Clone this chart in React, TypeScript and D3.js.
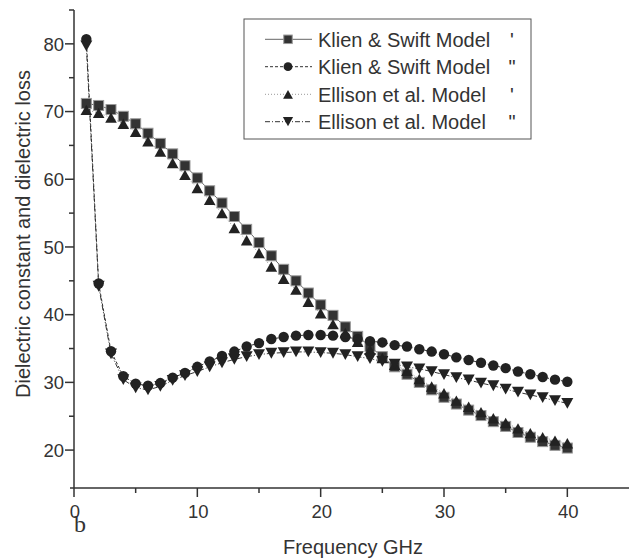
import React from "react";
import * as d3 from "d3";

const freq = d3.range(1, 41);
const klienReal = [71.2, 70.9, 70.3, 69.3, 68.2, 66.8, 65.3, 63.75, 62.0, 60.2, 58.3, 56.5, 54.5, 52.6, 50.65, 48.7, 46.7, 45.0, 43.2, 41.45, 39.9, 38.2, 36.8, 35.3, 33.8, 32.3, 31.2, 30.0, 28.9, 27.8, 26.8, 25.9, 25.1, 24.2, 23.5, 22.6, 21.9, 21.25, 20.7, 20.3];
const klienLoss = [80.7, 44.6, 34.6, 30.9, 29.8, 29.5, 29.9, 30.7, 31.4, 32.3, 33.1, 33.9, 34.55, 35.3, 35.8, 36.4, 36.7, 36.9, 37.0, 37.0, 36.9, 36.7, 36.4, 36.1, 35.9, 35.5, 35.3, 34.9, 34.55, 34.15, 33.7, 33.3, 32.9, 32.5, 32.1, 31.6, 31.2, 30.8, 30.4, 30.1];
const ellisonReal = [70.25, 69.8, 69.1, 68.2, 67.0, 65.6, 64.1, 62.4, 60.65, 58.7, 56.95, 55.0, 52.8, 51.0, 49.1, 47.1, 45.3, 43.7, 41.9, 40.2, 38.6, 37.3, 36.0, 34.8, 33.6, 32.6, 31.7, 30.5, 29.4, 28.4, 27.3, 26.4, 25.6, 24.7, 24.0, 23.2, 22.5, 21.9, 21.4, 21.0];
const ellisonLoss = [79.7, 44.2, 34.2, 30.4, 29.2, 28.9, 29.4, 30.3, 31.0, 31.6, 32.3, 32.9, 33.4, 33.8, 34.1, 34.3, 34.4, 34.5, 34.5, 34.4, 34.3, 34.1, 33.8, 33.5, 33.1, 32.7, 32.3, 32.0, 31.6, 31.15, 30.7, 30.35, 29.9, 29.5, 29.0, 28.55, 28.15, 27.75, 27.3, 26.9];

const xTicks = [0, 10, 20, 30, 40];
const xMinor = [5, 15, 25, 35];
const yTicks = [20, 30, 40, 50, 60, 70, 80];
const yMinor = [25, 35, 45, 55, 65, 75, 85];

const seriesNames = ["Klien & Swift Model", "Klien & Swift Model", "Ellison et al. Model", "Ellison et al. Model"];
const seriesMarks = ["'", "\"", "'", "\""];

const W = 629, H = 559;
const x = d3.scaleLinear().domain([0, 45]).range([74, 629]);
const y = d3.scaleLinear().domain([14.4, 85]).range([488, 10]);

type Kind = "square" | "circle" | "up" | "down";

function Marker({ kind, cx, cy, s = 1 }: { kind: Kind; cx: number; cy: number; s?: number }) {
  if (kind === "square") {
    const h = 5 * s;
    return <rect x={cx - h} y={cy - h} width={2 * h} height={2 * h} fill="#333" stroke="#999" strokeWidth={1} />;
  }
  if (kind === "circle") {
    return <circle cx={cx} cy={cy} r={5.2 * s} fill="#222" />;
  }
  if (kind === "up") {
    const w = 5.8 * s, h = 5.2 * s;
    return <path d={`M${cx},${cy - h}L${cx + w},${cy + h}L${cx - w},${cy + h}Z`} fill="#222" />;
  }
  const w = 6 * s, h = 5.4 * s;
  return <path d={`M${cx - w},${cy - h}L${cx + w},${cy - h}L${cx},${cy + h}Z`} fill="#222" />;
}

const series: { data: number[]; kind: Kind; stroke: string; dash: string }[] = [
  { data: klienReal, kind: "square", stroke: "#666", dash: "none" },
  { data: klienLoss, kind: "circle", stroke: "#333", dash: "3,2" },
  { data: ellisonReal, kind: "up", stroke: "#999", dash: "1,2" },
  { data: ellisonLoss, kind: "down", stroke: "#333", dash: "5,2,1,2" },
];

export default function App() {
  const line = d3
    .line<number>()
    .x((_, i) => x(freq[i]))
    .y((d) => y(d));
  const font = "'Liberation Sans', Arial, sans-serif";
  const legendRows = [39.3, 66.7, 94.3, 121.7];
  return (
    <svg width={W} height={H} style={{ position: "absolute", left: 0, top: 0 }} fontFamily={font}>
      <rect x={0} y={0} width={W} height={H} fill="#fff" />
      {/* series lines */}
      {series.map((s, k) => (
        <path key={"l" + k} d={line(s.data) || ""} fill="none" stroke={s.stroke} strokeWidth={1} strokeDasharray={s.dash} />
      ))}
      {/* markers */}
      {series.map((s, k) => (
        <g key={"m" + k}>
          {s.data.map((v, i) => (
            <Marker key={i} kind={s.kind} cx={x(freq[i])} cy={y(v)} />
          ))}
        </g>
      ))}
      {/* axes */}
      <line x1={x(0)} x2={x(0)} y1={y(85)} y2={y(14.4)} stroke="#333" strokeWidth={1.5} />
      <line x1={70} x2={629} y1={y(14.4)} y2={y(14.4)} stroke="#333" strokeWidth={1.5} />
      {yTicks.map((t) => (
        <g key={"yt" + t}>
          <line x1={x(0) - 9} x2={x(0)} y1={y(t)} y2={y(t)} stroke="#333" strokeWidth={1.5} />
          <text x={64} y={y(t)} dy="0.36em" textAnchor="end" fontSize={18.5} fill="#333">
            {t}
          </text>
        </g>
      ))}
      {yMinor.map((t) => (
        <line key={"ym" + t} x1={x(0) - 5} x2={x(0)} y1={y(t)} y2={y(t)} stroke="#333" strokeWidth={1.5} />
      ))}
      {xTicks.map((t) => (
        <g key={"xt" + t}>
          <line x1={x(t)} x2={x(t)} y1={y(14.4)} y2={y(14.4) + 9} stroke="#333" strokeWidth={1.5} />
          <text x={x(t) + 1} y={518} textAnchor="middle" fontSize={18.5} fill="#333">
            {t}
          </text>
        </g>
      ))}
      {xMinor.map((t) => (
        <line key={"xm" + t} x1={x(t)} x2={x(t)} y1={y(14.4)} y2={y(14.4) + 5} stroke="#333" strokeWidth={1.5} />
      ))}
      <text x={80} y={532} textAnchor="middle" fontSize={24} fontFamily="'Liberation Serif', serif" fill="#333">
        b
      </text>
      <text x={353} y={554} textAnchor="middle" fontSize={20} fill="#333">
        Frequency GHz
      </text>
      <text transform={`translate(30,234) rotate(-90)`} textAnchor="middle" fontSize={20} fill="#333">
        Dielectric constant and dielectric loss
      </text>
      {/* legend */}
      <rect x={244} y={19} width={287} height={120} fill="#fff" stroke="#555" strokeWidth={1} />
      {series.map((s, k) => (
        <g key={"lg" + k}>
          <line x1={265} x2={312} y1={legendRows[k]} y2={legendRows[k]} stroke={s.stroke} strokeWidth={1} strokeDasharray={s.dash} />
          <Marker kind={s.kind} cx={288} cy={legendRows[k]} s={0.85} />
          <text x={318} y={legendRows[k]} dy="0.36em" fontSize={20} fill="#333">
            {seriesNames[k]}
          </text>
          <text x={512} y={legendRows[k]} dy="0.36em" textAnchor="middle" fontSize={20} fill="#333">
            {seriesMarks[k]}
          </text>
        </g>
      ))}
    </svg>
  );
}
